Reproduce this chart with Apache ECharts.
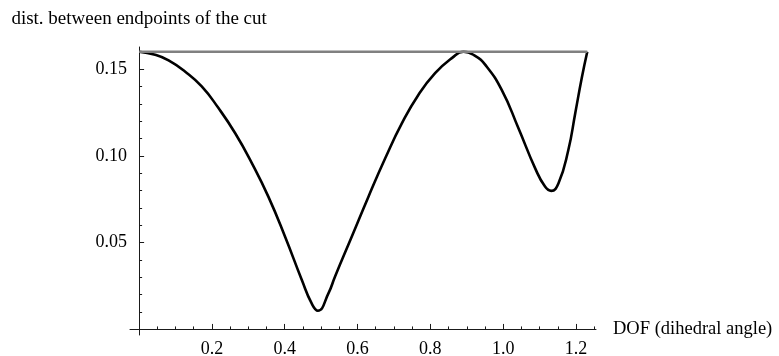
<!DOCTYPE html>
<html>
<head>
<meta charset="utf-8">
<script src="https://cdn.jsdelivr.net/npm/echarts@6/dist/echarts.min.js"></script>
<style>
  html, body { margin: 0; padding: 0; background: #fff; }
  #chart { width: 779px; height: 356px; }
</style>
</head>
<body>
<div id="chart"></div>
<script>
// Distance between the endpoints of the cut as a function of the dihedral angle
const angle = [0, 0.044, 0.081, 0.126, 0.172, 0.218, 0.264, 0.31, 0.355, 0.401, 0.447, 0.474, 0.491,
               0.52, 0.538, 0.584, 0.63, 0.676, 0.722, 0.767, 0.813, 0.859, 0.891, 0.923, 0.951,
               0.996, 1.042, 1.088, 1.115, 1.132, 1.152, 1.179, 1.198, 1.216, 1.231];
const dist  = [0.160, 0.1582, 0.155, 0.1486, 0.140, 0.1275, 0.113, 0.0957, 0.0765, 0.0534, 0.0285,
               0.0150, 0.0108, 0.0208, 0.0304, 0.0534, 0.0765, 0.0986, 0.1188, 0.1351, 0.1476,
               0.1563, 0.160, 0.1576, 0.1524, 0.138, 0.1159, 0.0928, 0.0823, 0.0798, 0.0842,
               0.1034, 0.1246, 0.145, 0.160];

// Reference level (horizontal line)
const refLevel = 0.16;
const refRange = [0, 1.231];

// Tick positions
const xMajorTicks = [0.2, 0.4, 0.6, 0.8, 1.0, 1.2];
const xMinorTicks = [0.05, 0.1, 0.15, 0.25, 0.3, 0.35, 0.45, 0.5, 0.55, 0.65, 0.7, 0.75,
                     0.85, 0.9, 0.95, 1.05, 1.1, 1.15, 1.25];
const yMajorTicks = [0.05, 0.10, 0.15];
const yMinorTicks = [0.01, 0.02, 0.03, 0.04, 0.06, 0.07, 0.08, 0.09, 0.11, 0.12, 0.13, 0.14, 0.16];

const xName = 'DOF (dihedral angle)';
const yName = 'dist. between endpoints of the cut';

const FONT = '"Liberation Serif", "Times New Roman", serif';
const AXIS_COLOR = '#1a1a1a';

const xRange = { min: -0.025, max: 1.255 };
const yRange = { min: -0.0032, max: 0.1627 };

const curve = angle.map((a, i) => [a, dist[i]]);
const refLine = refRange.map(a => [a, refLevel]);

const chart = echarts.init(document.getElementById('chart'), null, { renderer: 'canvas' });

chart.setOption({
  animation: false,
  backgroundColor: '#ffffff',
  grid: {
    left: 130, right: 183, top: 47, bottom: 21,
    outerBoundsMode: 'none'
  },
  xAxis: [
    {
      type: 'value', position: 'bottom',
      min: xRange.min, max: xRange.max,
      name: xName, nameLocation: 'end', nameGap: 17,
      nameTextStyle: { fontFamily: FONT, fontSize: 18.5, color: '#000', align: 'left', verticalAlign: 'middle' },
      axisLine: { show: true, onZero: true, lineStyle: { color: AXIS_COLOR, width: 1 } },
      axisTick: { show: true, inside: true, length: 5.5, customValues: xMajorTicks, lineStyle: { color: AXIS_COLOR } },
      axisLabel: {
        show: true, customValues: xMajorTicks, margin: 5,
        fontFamily: FONT, fontSize: 18, color: '#000',
        formatter: v => v.toFixed(1)
      },
      splitLine: { show: false }
    },
    {
      type: 'value', position: 'bottom',
      min: xRange.min, max: xRange.max,
      axisLine: { show: false, onZero: true },
      axisTick: { show: true, inside: true, length: 3, customValues: xMinorTicks, lineStyle: { color: AXIS_COLOR } },
      axisLabel: { show: false },
      splitLine: { show: false }
    }
  ],
  yAxis: [
    {
      type: 'value', position: 'left',
      min: yRange.min, max: yRange.max,
      name: yName, nameLocation: 'end', nameGap: 18,
      nameTextStyle: { fontFamily: FONT, fontSize: 19, color: '#000', align: 'center', verticalAlign: 'bottom' },
      axisLine: { show: true, onZero: true, lineStyle: { color: AXIS_COLOR, width: 1 } },
      axisTick: { show: true, inside: true, length: 5, customValues: yMajorTicks, lineStyle: { color: AXIS_COLOR } },
      axisLabel: {
        show: true, customValues: yMajorTicks, margin: 3,
        fontFamily: FONT, fontSize: 18, color: '#000',
        formatter: v => v.toFixed(2)
      },
      splitLine: { show: false }
    },
    {
      type: 'value', position: 'left',
      min: yRange.min, max: yRange.max,
      axisLine: { show: false, onZero: true },
      axisTick: { show: true, inside: true, length: 3, customValues: yMinorTicks, lineStyle: { color: AXIS_COLOR } },
      axisLabel: { show: false },
      splitLine: { show: false }
    }
  ],
  series: [
    {
      type: 'line', xAxisIndex: 0, yAxisIndex: 0,
      data: curve,
      smooth: 0.5,
      showSymbol: false,
      lineStyle: { color: '#000', width: 2.6 },
      z: 2
    },
    {
      type: 'line', xAxisIndex: 0, yAxisIndex: 0,
      data: refLine,
      showSymbol: false,
      lineStyle: { color: '#808080', width: 2.6 },
      z: 3
    }
  ]
});
</script>
</body>
</html>
